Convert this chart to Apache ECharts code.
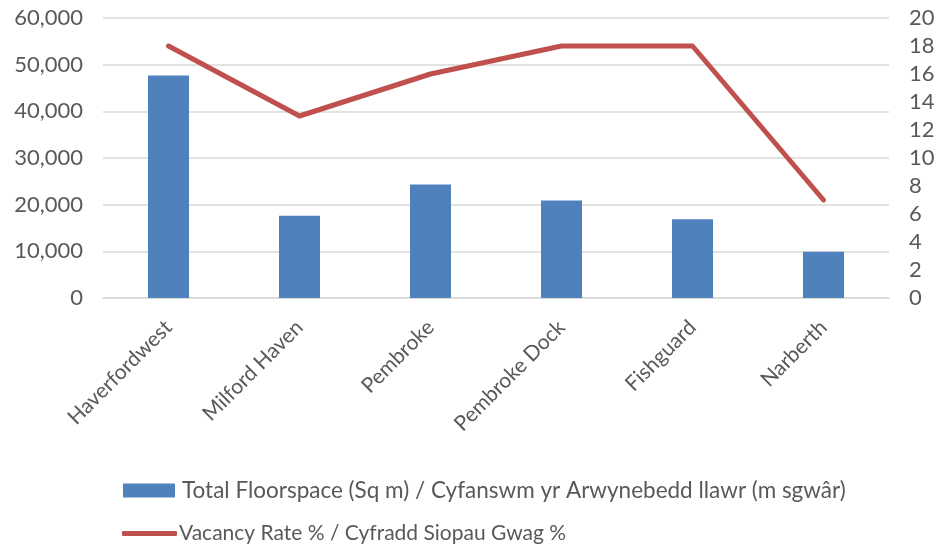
<!DOCTYPE html>
<html>
<head>
<meta charset="utf-8">
<script src="https://cdn.jsdelivr.net/npm/echarts@6/dist/echarts.min.js"></script>
<style>
  html, body { margin: 0; padding: 0; background: #ffffff; }
  #chart { width: 949px; height: 548px; }
</style>
</head>
<body>
<div id="chart"></div>
<script>
// Towns along the category axis
const towns = ['Haverfordwest', 'Milford Haven', 'Pembroke', 'Pembroke Dock', 'Fishguard', 'Narberth'];
// Total retail floorspace, square metres
const floorspace = [47700, 17600, 24300, 20900, 16900, 9900];
// Vacancy rate, percent
const vacancy = [18, 13, 16, 18, 18, 7];

const floorName = 'Total Floorspace (Sq m) / Cyfanswm yr Arwynebedd llawr (m sgwâr)';
const vacancyName = 'Vacancy Rate % / Cyfradd Siopau Gwag %';

const FONT = 'Lato';
const GREY = '#595959';

const chart = echarts.init(document.getElementById('chart'), null, { renderer: 'canvas' });

chart.setOption({
  backgroundColor: '#ffffff',
  animation: false,
  grid: { left: 103, right: 60, top: 18, bottom: 250, containLabel: false },
  legend: [
    {
      left: 118, top: 474,
      itemWidth: 52, itemHeight: 14,
      icon: 'rect',
      data: [floorName],
      textStyle: { fontFamily: FONT, fontSize: 22.5, color: GREY, padding: [0, 0, 0, 2] }
    },
    {
      left: 117, top: 518,
      itemWidth: 55, itemHeight: 5,
      icon: 'roundRect',
      data: [vacancyName],
      textStyle: { fontFamily: FONT, fontSize: 21, color: GREY, padding: [0, 0, 0, -3] }
    }
  ],
  xAxis: {
    type: 'category',
    data: towns,
    axisLine: { show: true, lineStyle: { color: '#D9D9D9', width: 1.5 } },
    axisTick: { show: false },
    axisLabel: {
      rotate: 45,
      margin: 26,
      interval: 0,
      fontFamily: FONT,
      fontSize: 21,
      color: GREY
    }
  },
  yAxis: [
    {
      type: 'value',
      min: 0, max: 60000, interval: 10000,
      axisLine: { show: false },
      axisTick: { show: false },
      splitLine: { lineStyle: { color: '#D9D9D9', width: 1.5 } },
      axisLabel: {
        margin: 20,
        fontFamily: FONT, fontSize: 22, color: GREY,
        formatter: v => v.toLocaleString('en-GB')
      }
    },
    {
      type: 'value',
      min: 0, max: 20, interval: 2,
      axisLine: { show: false },
      axisTick: { show: false },
      splitLine: { show: false },
      axisLabel: { margin: 20, fontFamily: FONT, fontSize: 22, color: GREY }
    }
  ],
  series: [
    {
      name: floorName,
      type: 'bar',
      yAxisIndex: 0,
      data: floorspace,
      barWidth: 41,
      itemStyle: { color: '#4F81BD' }
    },
    {
      name: vacancyName,
      type: 'line',
      yAxisIndex: 1,
      data: vacancy,
      symbol: 'none',
      lineStyle: { color: '#C0504D', width: 5, cap: 'round', join: 'round' },
      itemStyle: { color: '#C0504D' }
    }
  ]
});
</script>
</body>
</html>
